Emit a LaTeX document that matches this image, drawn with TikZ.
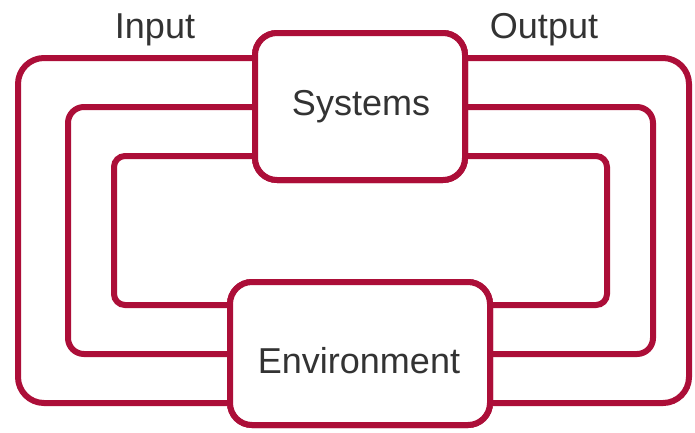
\documentclass[tikz,border=0pt]{standalone}
\usepackage{fontspec}
\setmainfont{Liberation Sans}
\begin{document}
\definecolor{crim}{RGB}{172,14,56}
\definecolor{txt}{RGB}{51,51,51}
\begin{tikzpicture}[x=1pt,y=-1pt,
  box/.style={draw=crim, line width=6pt, fill=white, rounded corners=22pt, inner sep=0pt},
  loopline/.style={draw=crim, line width=6pt},
  lbl/.style={text=txt, font=\fontsize{36}{40}\selectfont, anchor=base, inner sep=0pt}]
\useasboundingbox (0,0) rectangle (695,432);
\node[box, minimum width=210pt, minimum height=147pt] (S) at (360,106.5) {};
\node[box, minimum width=260pt, minimum height=143pt] (E) at (360,353.5) {};
% left loops (input)
\draw[loopline, rounded corners=26pt] (S.west |- 0,58) -| (18,403) -- (E.west |- 0,403);
\draw[loopline, rounded corners=16pt] (S.west |- 0,107) -| (68,354) -- (E.west |- 0,354);
\draw[loopline, rounded corners=11pt] (S.west |- 0,156) -| (114,305) -- (E.west |- 0,305);
% right loops (output)
\draw[loopline, rounded corners=26pt] (S.east |- 0,58) -| (689,403) -- (E.east |- 0,403);
\draw[loopline, rounded corners=16pt] (S.east |- 0,107) -| (653,354) -- (E.east |- 0,354);
\draw[loopline, rounded corners=11pt] (S.east |- 0,156) -| (607,305) -- (E.east |- 0,305);
% redraw boxes on top
\node[box, minimum width=210pt, minimum height=147pt] at (S.center) {};
\node[box, minimum width=260pt, minimum height=143pt] at (E.center) {};
\node[lbl] (tS) at (361,115) {Systems};
\node[lbl] (tE) at (359,373) {Environment};
\node[lbl] (tI) at (155,38) {Input};
\node[lbl] (tO) at (544,38) {Output};
\end{tikzpicture}
\end{document}
